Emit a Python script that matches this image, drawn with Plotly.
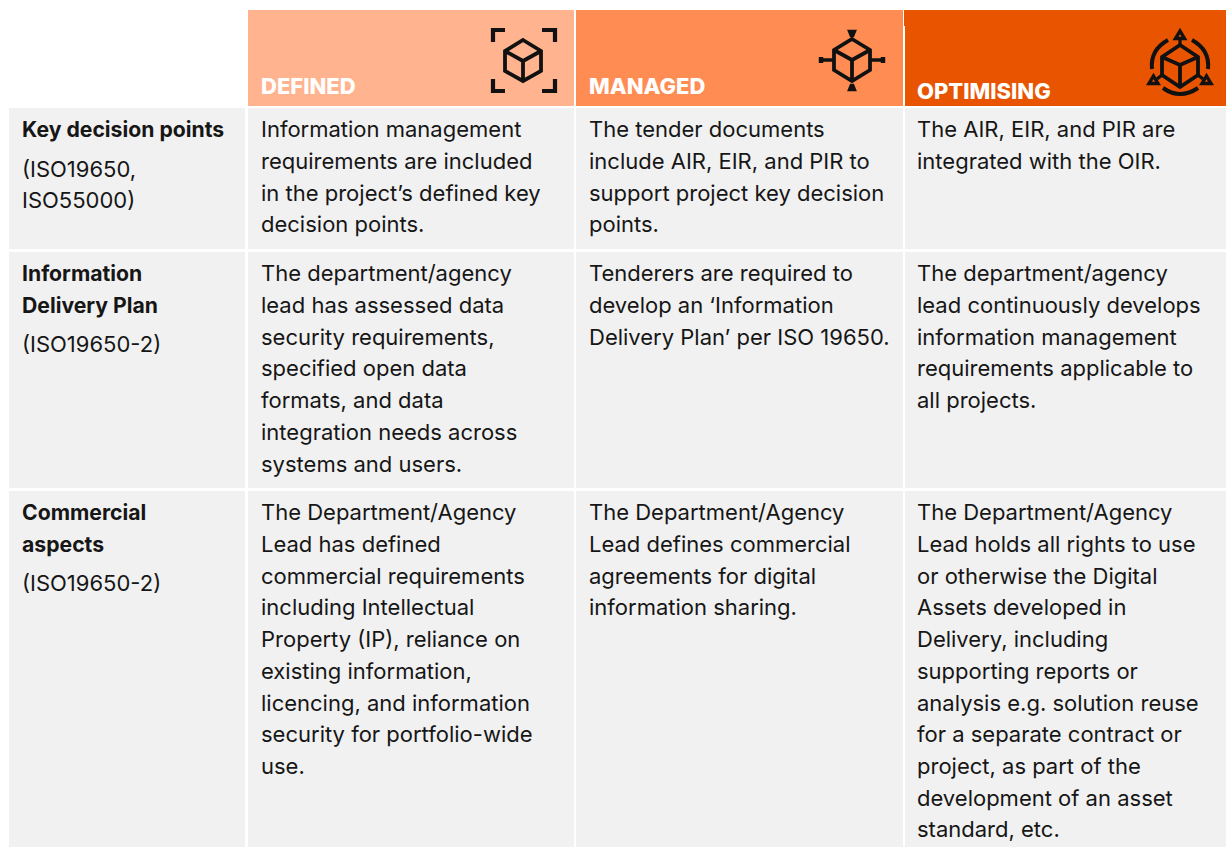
import plotly.graph_objects as go

FONT = "Inter"
TEXT_SIZE = 22
TITLE_SIZE = 21.2
HEAD_SIZE = 22
INK = "#161616"

levels = ["DEFINED", "MANAGED", "OPTIMISING"]
level_colours = ["#FFB38E", "#FF8C52", "#E95400"]

row_titles = [
    ["Key decision points"],
    ["Information", "Delivery Plan"],
    ["Commercial", "aspects"],
]
row_refs = [
    ["(ISO19650,", "ISO55000)"],
    ["(ISO19650-2)"],
    ["(ISO19650-2)"],
]
defined_cells = [
    ["Information management", "requirements are included", "in the project’s defined key", "decision points."],
    ["The department/agency", "lead has assessed data", "security requirements,", "specified open data", "formats, and data", "integration needs across", "systems and users."],
    ["The Department/Agency", "Lead has defined", "commercial requirements", "including Intellectual", "Property (IP), reliance on", "existing information,", "licencing, and information", "security for portfolio-wide", "use."],
]
managed_cells = [
    ["The tender documents", "include AIR, EIR, and PIR to", "support project key decision", "points."],
    ["Tenderers are required to", "develop an ‘Information", "Delivery Plan’ per ISO 19650."],
    ["The Department/Agency", "Lead defines commercial", "agreements for digital", "information sharing."],
]
optimising_cells = [
    ["The AIR, EIR, and PIR are", "integrated with the OIR."],
    ["The department/agency", "lead continuously develops", "information management", "requirements applicable to", "all projects."],
    ["The Department/Agency", "Lead holds all rights to use", "or otherwise the Digital", "Assets developed in", "Delivery, including", "supporting reports or", "analysis e.g. solution reuse", "for a separate contract or", "project, as part of the", "development of an asset", "standard, etc."],
]

col_x = [(9, 245), (248, 574), (576, 903), (905, 1226)]
row_y = [(108, 249), (252, 488), (491, 847)]
first_line = [129.3, 273.3, 512.3]
PITCH = 31.7

fig = go.Figure()
shapes, notes = [], []


def rect(x0, y0, x1, y1, c):
    shapes.append(dict(type="rect", x0=x0, y0=y0, x1=x1, y1=y1, fillcolor=c, line=dict(width=0), layer="below"))


def text(x, y, s, size=TEXT_SIZE, weight=400, color=INK):
    notes.append(dict(x=x, y=y, text=s, showarrow=False, xanchor="left", yanchor="middle",
                      xshift=-2, font=dict(family=FONT, size=size, color=color, weight=weight), align="left"))


def stroke(path, w=3.8, fill=None):
    shapes.append(dict(type="path", path=path, line=dict(color="#111111", width=w), fillcolor=fill or "rgba(0,0,0,0)", layer="above"))


def cube(cx, top, bottom, half, upper, lower, mid):
    stroke(f"M{cx},{top} L{cx+half},{upper} L{cx+half},{lower} L{cx},{bottom} L{cx-half},{lower} L{cx-half},{upper} Z")
    stroke(f"M{cx-half},{upper} L{cx},{mid} L{cx+half},{upper} M{cx},{mid} L{cx},{bottom}")


# header fills
rect(col_x[1][0], 10, col_x[1][1], 106, level_colours[0])
rect(col_x[2][0], 10, col_x[2][1], 106, level_colours[1])
rect(col_x[3][0], 26, col_x[3][1], 106, level_colours[2])
rect(904, 10, col_x[3][1], 26, level_colours[2])

# body fills
for (y0, y1) in row_y:
    for (x0, x1) in col_x:
        rect(x0, y0, x1, y1, "#F1F1F1")

# header labels
text(261, 85.5, levels[0], HEAD_SIZE, 800, "#FFFFFF")
text(589, 85.5, levels[1], HEAD_SIZE, 800, "#FFFFFF")
text(917, 90.5, levels[2], HEAD_SIZE, 800, "#FFFFFF")

# body text
for r in range(3):
    y = first_line[r]
    for line in row_titles[r]:
        text(22, y, line, TITLE_SIZE, 700)
        y += PITCH
    y += 7.5
    for line in row_refs[r]:
        text(22, y, line)
        y += PITCH
    for cells, x in ((defined_cells, 261), (managed_cells, 589), (optimising_cells, 917)):
        for i, line in enumerate(cells[r]):
            text(x, first_line[r] + i * PITCH, line)

# icon 1
cube(523, 40, 81, 18, 51, 71, 61)
stroke("M505,30 L493,30 L493,42 M542,30 L555,30 L555,42 M493,79 L493,91 L505,91 M555,79 L555,91 L542,91", 4.2)

# icon 2
cube(852, 39, 81, 18, 50, 70, 60)
stroke("M821,60 L834,60 M870,60 L883,60", 3.6)
for px, py in ((821, 60), (883, 60)):
    stroke(f"M{px},{py-3} L{px},{py+3}", 4.5)
stroke("M849,31 L855,31 L853,36 L851,36 Z", 2.6, "#111111")
stroke("M849,90 L855,90 L853,85 L851,85 Z", 2.6, "#111111")

# icon 3
cube(1180, 45, 87, 18, 57, 75, 65)
stroke("M1180,38 L1180,45 M1157,79 L1162,75 M1203,79 L1198,75", 3.2)
for ax, ay in ((1180, 31), (1153.5, 76), (1206.5, 76)):
    stroke(f"M{ax},{ay} L{ax+4.5},{ay+7.5} L{ax-4.5},{ay+7.5} Z", 3.4)
stroke("M1152,69 Q1150,50 1168,40 M1192,40 Q1210,50 1208,69 M1163,88 Q1180,100 1198,88", 4)

fig.update_layout(
    width=1226, height=847, margin=dict(l=0, r=0, t=0, b=0),
    paper_bgcolor="white", plot_bgcolor="white", showlegend=False,
    xaxis=dict(range=[0, 1226], visible=False, fixedrange=True),
    yaxis=dict(range=[847, 0], visible=False, fixedrange=True),
    shapes=shapes, annotations=notes,
)
fig.write_html("out.html", config=dict(displayModeBar=False),
               post_script="document.body.style.margin='0';document.body.style.overflow='hidden';")
